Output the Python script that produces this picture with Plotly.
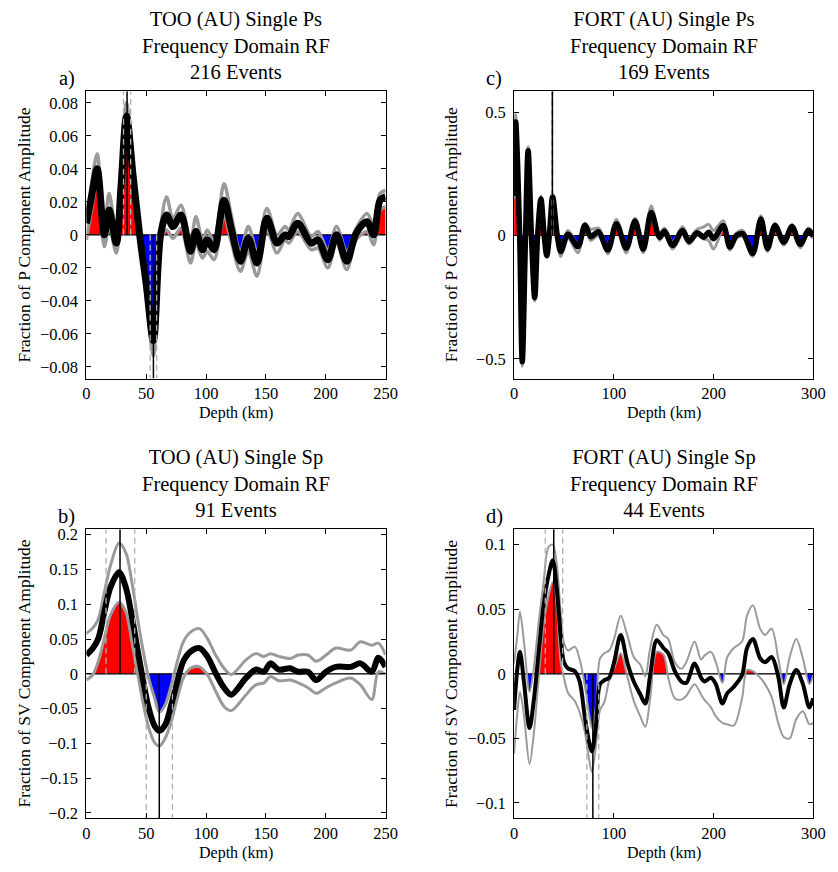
import plotly.graph_objects as go

W, H = 838, 872
FONT = "Liberation Serif"

# ---------------- Panel a: TOO (AU) Single Ps ----------------
a_depth = [0, 4, 9, 15, 19, 25, 29, 33.5, 39, 44.5, 50, 56, 62, 67, 72.4, 79, 87, 91.5, 97, 101,
           106.6, 115, 121, 128.7, 135.3, 142.5, 150.8, 159.3, 166, 169, 176.5, 188, 193.5, 201.7,
           209, 217.5, 225.4, 234.5, 240, 245.4, 250]
a_mean = [0.007, 0.022, 0.040, 0.000, 0.015, -0.005, 0.030, 0.072, 0.036, 0.000, -0.030, -0.064,
          0.000, 0.012, 0.005, 0.012, -0.010, 0.002, -0.009, -0.003, -0.009, 0.021, 0.004, -0.016,
          -0.002, -0.017, 0.010, -0.005, 0.000, -0.001, 0.007, -0.005, -0.003, -0.015, 0.000,
          -0.016, 0.001, 0.008, 0.000, 0.021, 0.023]
a_upper = [0.010, 0.029, 0.049, 0.004, 0.025, 0.000, 0.038, 0.080, 0.043, 0.004, -0.023, -0.058,
           0.004, 0.023, 0.010, 0.018, -0.004, 0.011, -0.003, 0.003, -0.004, 0.031, 0.012, -0.010,
           0.005, -0.010, 0.016, 0.000, 0.005, 0.003, 0.013, -0.001, 0.002, -0.009, 0.005,
           -0.010, 0.004, 0.013, 0.006, 0.025, 0.027]
a_lower = [-0.003, 0.014, 0.031, -0.007, 0.005, -0.011, 0.022, 0.063, 0.028, -0.004, -0.037, -0.073,
           -0.004, 0.003, -0.002, 0.004, -0.017, -0.005, -0.014, -0.010, -0.015, 0.011, -0.004,
           -0.022, -0.010, -0.025, 0.003, -0.011, -0.003, -0.005, 0.002, -0.009, -0.008, -0.020,
           -0.005, -0.021, -0.003, 0.002, -0.006, 0.015, 0.017]

# ---------------- Panel c: FORT (AU) Single Ps ----------------
c_depth = [0, 1.6, 5.6, 8.2, 11.5, 14.1, 17.4, 20.7, 23.6, 26.9, 30.2, 32.8, 35.4, 38.7, 43.3, 46.9,
           54, 64, 71, 77, 84.6, 94, 102.6, 112.5, 121.3, 129.5, 137.5, 145.9, 150.8, 159, 168.9,
           175.4, 183.6, 190.2, 195.1, 200, 209.8, 216.4, 223, 229.5, 239.3, 247.5, 254.1, 261.6,
           270.5, 278.7, 286.9, 295.1, 300]
c_mean = [0.16, 0.46, 0.0, -0.512, 0.0, 0.344, 0.0, -0.252, 0.0, 0.148, 0.0, -0.081, 0.0, 0.157,
          0.0, -0.065, 0.005, -0.045, 0.041, -0.005, 0.015, -0.059, 0.048, -0.052, 0.059, -0.056,
          0.093, -0.007, 0.017, -0.040, 0.020, -0.024, 0.011, -0.007, 0.013, -0.013, 0.040, -0.047,
          0.000, 0.007, -0.073, 0.067, -0.053, 0.040, -0.027, 0.036, -0.036, 0.020, -0.003]
c_upper = [0.18, 0.49, 0.03, -0.49, 0.02, 0.36, 0.02, -0.235, 0.015, 0.16, 0.012, -0.07, 0.01, 0.165,
           0.01, -0.05, 0.02, -0.035, 0.05, 0.025, 0.03, -0.045, 0.065, -0.04, 0.07, -0.045,
           0.12, 0.005, 0.03, -0.025, 0.035, -0.01, 0.025, 0.035, 0.045, 0.02, 0.06, -0.035,
           0.01, 0.02, -0.06, 0.08, -0.04, 0.05, -0.015, 0.045, -0.025, 0.03, 0.008]
c_lower = [0.15, 0.43, -0.03, -0.53, -0.02, 0.32, -0.02, -0.265, -0.015, 0.135, -0.012, -0.09, -0.01,
           0.145, -0.01, -0.085, -0.01, -0.07, 0.03, -0.02, 0.0, -0.075, 0.035, -0.07, 0.045, -0.07,
           0.075, -0.02, 0.005, -0.055, 0.005, -0.035, 0.0, -0.015, -0.02, -0.055, 0.025, -0.06,
           -0.01, -0.005, -0.085, 0.05, -0.065, 0.025, -0.04, 0.02, -0.05, 0.008, -0.012]

# ---------------- Panel b: TOO (AU) Single Sp ----------------
b_depth = [0, 5.5, 10, 15, 20, 27.3, 33, 38, 43, 47, 52, 57, 61, 66, 71, 76, 81, 87, 94.5, 101,
           108, 115, 121, 133.4, 141.5, 148.4, 153.8, 160.7, 170.2, 177, 185.2, 192, 200.3, 208.5,
           220.8, 229, 238.5, 244, 250]
b_mean = [0.027, 0.037, 0.051, 0.089, 0.124, 0.146, 0.124, 0.082, 0.032, -0.006, -0.049, -0.075,
          -0.082, -0.073, -0.044, -0.011, 0.018, 0.032, 0.037, 0.025, 0.001, -0.020, -0.030, -0.006,
          0.006, 0.003, 0.015, 0.006, 0.008, 0.003, 0.003, -0.009, 0.003, 0.010, 0.010, 0.015,
          0.003, 0.023, 0.010]
b_upper = [0.058, 0.066, 0.079, 0.117, 0.155, 0.188, 0.174, 0.132, 0.077, 0.037, -0.006, -0.035,
           -0.055, -0.044, -0.016, 0.018, 0.046, 0.060, 0.065, 0.051, 0.027, 0.008, -0.001, 0.020,
           0.029, 0.025, 0.029, 0.025, 0.022, 0.027, 0.027, 0.018, 0.027, 0.037, 0.034, 0.046,
           0.041, 0.044, 0.027]
b_lower = [-0.009, -0.001, 0.018, 0.051, 0.084, 0.103, 0.089, 0.046, -0.001, -0.039, -0.077, -0.099,
           -0.104, -0.092, -0.068, -0.035, -0.006, 0.008, 0.010, -0.001, -0.025, -0.047, -0.053,
           -0.030, -0.016, -0.013, -0.004, -0.010, -0.009, -0.013, -0.020, -0.028, -0.020, -0.013,
           -0.006, -0.016, -0.037, 0.003, -0.001]

# ---------------- Panel d: FORT (AU) Single Sp ----------------
d_depth = [0, 3.3, 5.9, 9.9, 15.5, 19.7, 24.7, 29.6, 34.5, 38.8, 42.8, 46.7, 50, 54.3, 60.9, 65.8,
           70.7, 75, 78, 82.2, 86.2, 90.5, 95.4, 100.3, 106.9, 113.5, 120, 126.6, 131.6, 136.5,
           143.1, 149.7, 154.6, 161.2, 167.8, 172.7, 181, 187.5, 190.8, 197.4, 202.3, 208.9, 213.8,
           220.4, 228.6, 233.6, 239.5, 246.7, 251.7, 258.3, 264.9, 270.4, 276.4, 283, 289.6,
           296.1, 300]
d_mean = [-0.028, 0.004, 0.017, -0.006, -0.042, -0.021, 0.017, 0.053, 0.076, 0.088, 0.066, 0.030,
          0.009, 0.004, 0.002, -0.006, -0.032, -0.052, -0.060, -0.039, -0.008, -0.005, -0.003,
          0.009, 0.030, 0.009, -0.006, -0.016, -0.023, -0.001, 0.026, 0.020, 0.016, 0.002, -0.006,
          -0.007, 0.008, -0.003, -0.006, -0.003, -0.008, -0.023, -0.015, -0.010, -0.001, 0.020,
          0.027, 0.012, 0.009, 0.013, -0.002, -0.026, -0.008, 0.003, -0.008, -0.026, -0.019]
d_upper = [0.008, 0.030, 0.048, 0.025, -0.014, 0.004, 0.040, 0.071, 0.098, 0.100, 0.085, 0.048,
           0.024, 0.018, 0.021, 0.011, -0.008, -0.030, -0.042, -0.024, 0.012, 0.016, 0.018, 0.027,
           0.045, 0.030, 0.013, 0.007, -0.002, 0.020, 0.038, 0.030, 0.027, 0.009, 0.004, 0.009,
           0.025, 0.011, 0.014, 0.017, 0.009, -0.007, 0.013, 0.020, 0.025, 0.045, 0.053, 0.035,
           0.030, 0.035, 0.012, -0.008, 0.013, 0.027, 0.012, -0.008, -0.001]
d_lower = [-0.062, -0.030, -0.014, -0.032, -0.070, -0.047, -0.003, 0.038, 0.060, 0.071, 0.053, 0.009,
           -0.003, -0.015, -0.021, -0.030, -0.044, -0.065, -0.076, -0.055, -0.028, -0.022, -0.005,
           0.004, 0.016, -0.002, -0.021, -0.033, -0.041, -0.019, 0.017, 0.015, -0.003, -0.019,
           -0.020, -0.017, -0.008, -0.016, -0.020, -0.026, -0.033, -0.038, -0.039, -0.040, -0.019,
           0.003, 0.002, -0.003, -0.008, -0.018, -0.038, -0.049, -0.050, -0.035, -0.029, -0.039,
           -0.038]

# picked phase depths: [depth, lower bound, upper bound]
a_pos_pick = [34, 31, 37]
a_neg_pick = [56, 53.3, 58.7]
c_pos_pick = [38.4, 38.0, 38.8]
c_neg_pick = None
b_pos_pick = [28.1, 16.4, 40.4]
b_neg_pick = [60.9, 50.0, 71.9]
d_pos_pick = [39.8, 31.3, 48.7]
d_neg_pick = [79.0, 73.0, 84.9]

titles = {
    "a": ["TOO (AU) Single Ps", "Frequency Domain RF", "216 Events"],
    "c": ["FORT (AU) Single Ps", "Frequency Domain RF", "169 Events"],
    "b": ["TOO (AU) Single Sp", "Frequency Domain RF", "91 Events"],
    "d": ["FORT (AU) Single Sp", "Frequency Domain RF", "44 Events"],
}
ylabels = {"a": "Fraction of P Component Amplitude", "c": "Fraction of P Component Amplitude",
           "b": "Fraction of SV Component Amplitude", "d": "Fraction of SV Component Amplitude"}
xlabel = "Depth (km)"

a_yticks = [-0.08, -0.06, -0.04, -0.02, 0, 0.02, 0.04, 0.06, 0.08]
c_yticks = [-0.5, 0, 0.5]
b_yticks = [-0.2, -0.15, -0.1, -0.05, 0, 0.05, 0.1, 0.15, 0.2]
d_yticks = [-0.1, -0.05, 0, 0.05, 0.1]
a_xticks = [0, 50, 100, 150, 200, 250]
c_xticks = [0, 100, 200, 300]


def fmt(v):
    if v == 0:
        return "0"
    s = ("%g" % v)
    return s.replace("-", "\u2212")


# pixel boxes (left, top, right, bottom)
panels = [
    dict(k="a", box=(84, 88, 389, 378), depth=a_depth, mean=a_mean, up=a_upper, lo=a_lower,
         xr=[0, 250], yr=[-0.087, 0.087], yt=a_yticks, xt=a_xticks, pos=a_pos_pick, neg=a_neg_pick,
         bw=7, gw=3.5),
    dict(k="c", box=(520, 88, 825, 378), depth=c_depth, mean=c_mean, up=c_upper, lo=c_lower,
         xr=[0, 300], yr=[-0.58, 0.585], yt=c_yticks, xt=c_xticks, pos=c_pos_pick, neg=c_neg_pick,
         bw=5.5, gw=3),
    dict(k="b", box=(84, 530, 389, 822), depth=b_depth, mean=b_mean, up=b_upper, lo=b_lower,
         xr=[0, 250], yr=[-0.208, 0.208], yt=b_yticks, xt=a_xticks, pos=b_pos_pick, neg=b_neg_pick,
         bw=6, gw=3),
    dict(k="d", box=(520, 530, 825, 822), depth=d_depth, mean=d_mean, up=d_upper, lo=d_lower,
         xr=[0, 300], yr=[-0.112, 0.112], yt=d_yticks, xt=c_xticks, pos=d_pos_pick, neg=d_neg_pick,
         bw=4, gw=2),
]

fig = go.Figure()
layout = {}
annotations = []
GRAY = "#9a9a9a"
DASHGRAY = "#b0b0b0"
SM = 0.9

for i, p in enumerate(panels, start=1):
    L, T, R, B = p["box"]
    xd = [L / W, R / W]
    yd = [1 - B / H, 1 - T / H]
    ymin, ymax = p["yr"]
    zf = (0 - ymin) / (ymax - ymin)
    yzero = yd[0] + zf * (yd[1] - yd[0])
    main_id = 8 + i
    ypos_id, yneg_id = 2 * i - 1, 2 * i
    xa, ya = f"x{i}", f"y{main_id}"
    axis_common = dict(showline=True, linecolor="black", linewidth=1, mirror="ticks",
                       ticks="inside", ticklen=5, tickcolor="black", showgrid=False,
                       zeroline=False, tickfont=dict(family=FONT, size=16.5, color="black"))
    layout[f"xaxis{i}"] = dict(domain=xd, range=p["xr"], anchor=ya, tickvals=p["xt"],
                               ticktext=[fmt(v) for v in p["xt"]], **axis_common)
    layout[f"yaxis{main_id}"] = dict(domain=yd, range=p["yr"], anchor=xa, tickvals=p["yt"],
                                     ticktext=[fmt(v) for v in p["yt"]], ticklabelstandoff=4,
                                     **axis_common)
    layout[f"yaxis{ypos_id}"] = dict(domain=[yzero, yd[1]], range=[0, ymax], anchor=xa,
                                     visible=False, showgrid=False, zeroline=False)
    layout[f"yaxis{yneg_id}"] = dict(domain=[yd[0], yzero], range=[ymin, 0], anchor=xa,
                                     visible=False, showgrid=False, zeroline=False)

    # red: positive part of lower bound ; blue: negative part of upper bound
    fig.add_trace(go.Scatter(x=p["depth"], y=p["lo"], xaxis=xa, yaxis=f"y{ypos_id}",
                             mode="lines", line=dict(width=0, shape="spline", smoothing=SM),
                             fill="tozeroy", fillcolor="#ff0000", showlegend=False,
                             hoverinfo="skip"))
    fig.add_trace(go.Scatter(x=p["depth"], y=p["up"], xaxis=xa, yaxis=f"y{yneg_id}",
                             mode="lines", line=dict(width=0, shape="spline", smoothing=SM),
                             fill="tozeroy", fillcolor="#0000ff", showlegend=False,
                             hoverinfo="skip"))
    # zero line
    fig.add_trace(go.Scatter(x=p["xr"], y=[0, 0], xaxis=xa, yaxis=ya, mode="lines",
                             line=dict(color="black", width=1.2), showlegend=False))
    # bounds
    for ser in (p["up"], p["lo"]):
        fig.add_trace(go.Scatter(x=p["depth"], y=ser, xaxis=xa, yaxis=ya, mode="lines",
                                 line=dict(color=GRAY, width=p["gw"], shape="spline",
                                           smoothing=SM), showlegend=False))
    # mean
    fig.add_trace(go.Scatter(x=p["depth"], y=p["mean"], xaxis=xa, yaxis=ya, mode="lines",
                             line=dict(color="black", width=p["bw"], shape="spline",
                                       smoothing=SM), showlegend=False))
    # picked phases
    for pick, edge in ((p["pos"], ymax), (p["neg"], ymin)):
        if pick is None:
            continue
        dep, dlo, dhi = pick
        for dd in (dlo, dhi):
            fig.add_trace(go.Scatter(x=[dd, dd], y=[0, edge], xaxis=xa, yaxis=ya, mode="lines",
                                     line=dict(color=DASHGRAY, width=1.3, dash="6px,4px"),
                                     showlegend=False))
        fig.add_trace(go.Scatter(x=[dep, dep], y=[0, edge], xaxis=xa, yaxis=ya, mode="lines",
                                 line=dict(color="black", width=1.5), showlegend=False))

    # texts
    cx = (L + R) / 2
    annotations.append(dict(text="<br>".join(titles[p["k"]]), x=cx / W, y=1 - (T - 46) / H,
                            xref="paper", yref="paper", xanchor="center", yanchor="middle",
                            showarrow=False, font=dict(family=FONT, size=20.5, color="black")))
    annotations.append(dict(text=p["k"] + ")", x=(L - 20) / W, y=1 - (T - 13) / H,
                            xref="paper", yref="paper", xanchor="center", yanchor="middle",
                            showarrow=False, font=dict(family=FONT, size=20.5, color="black")))
    annotations.append(dict(text=ylabels[p["k"]], x=(L - 64) / W, y=1 - ((T + B) / 2) / H,
                            xref="paper", yref="paper", xanchor="center", yanchor="middle",
                            textangle=-90, showarrow=False,
                            font=dict(family=FONT, size=17.5, color="black")))
    annotations.append(dict(text=xlabel, x=cx / W, y=1 - (B + 35) / H,
                            xref="paper", yref="paper", xanchor="center", yanchor="middle",
                            showarrow=False, font=dict(family=FONT, size=16, color="black")))

fig.update_layout(width=W, height=H, margin=dict(l=0, r=0, t=0, b=0),
                  paper_bgcolor="white", plot_bgcolor="rgba(0,0,0,0)", showlegend=False,
                  annotations=annotations, **layout)
fig.write_html("out.html",
               config={"displayModeBar": False, "responsive": False},
               post_script="document.body.style.margin='0';document.body.style.overflow='hidden';")
